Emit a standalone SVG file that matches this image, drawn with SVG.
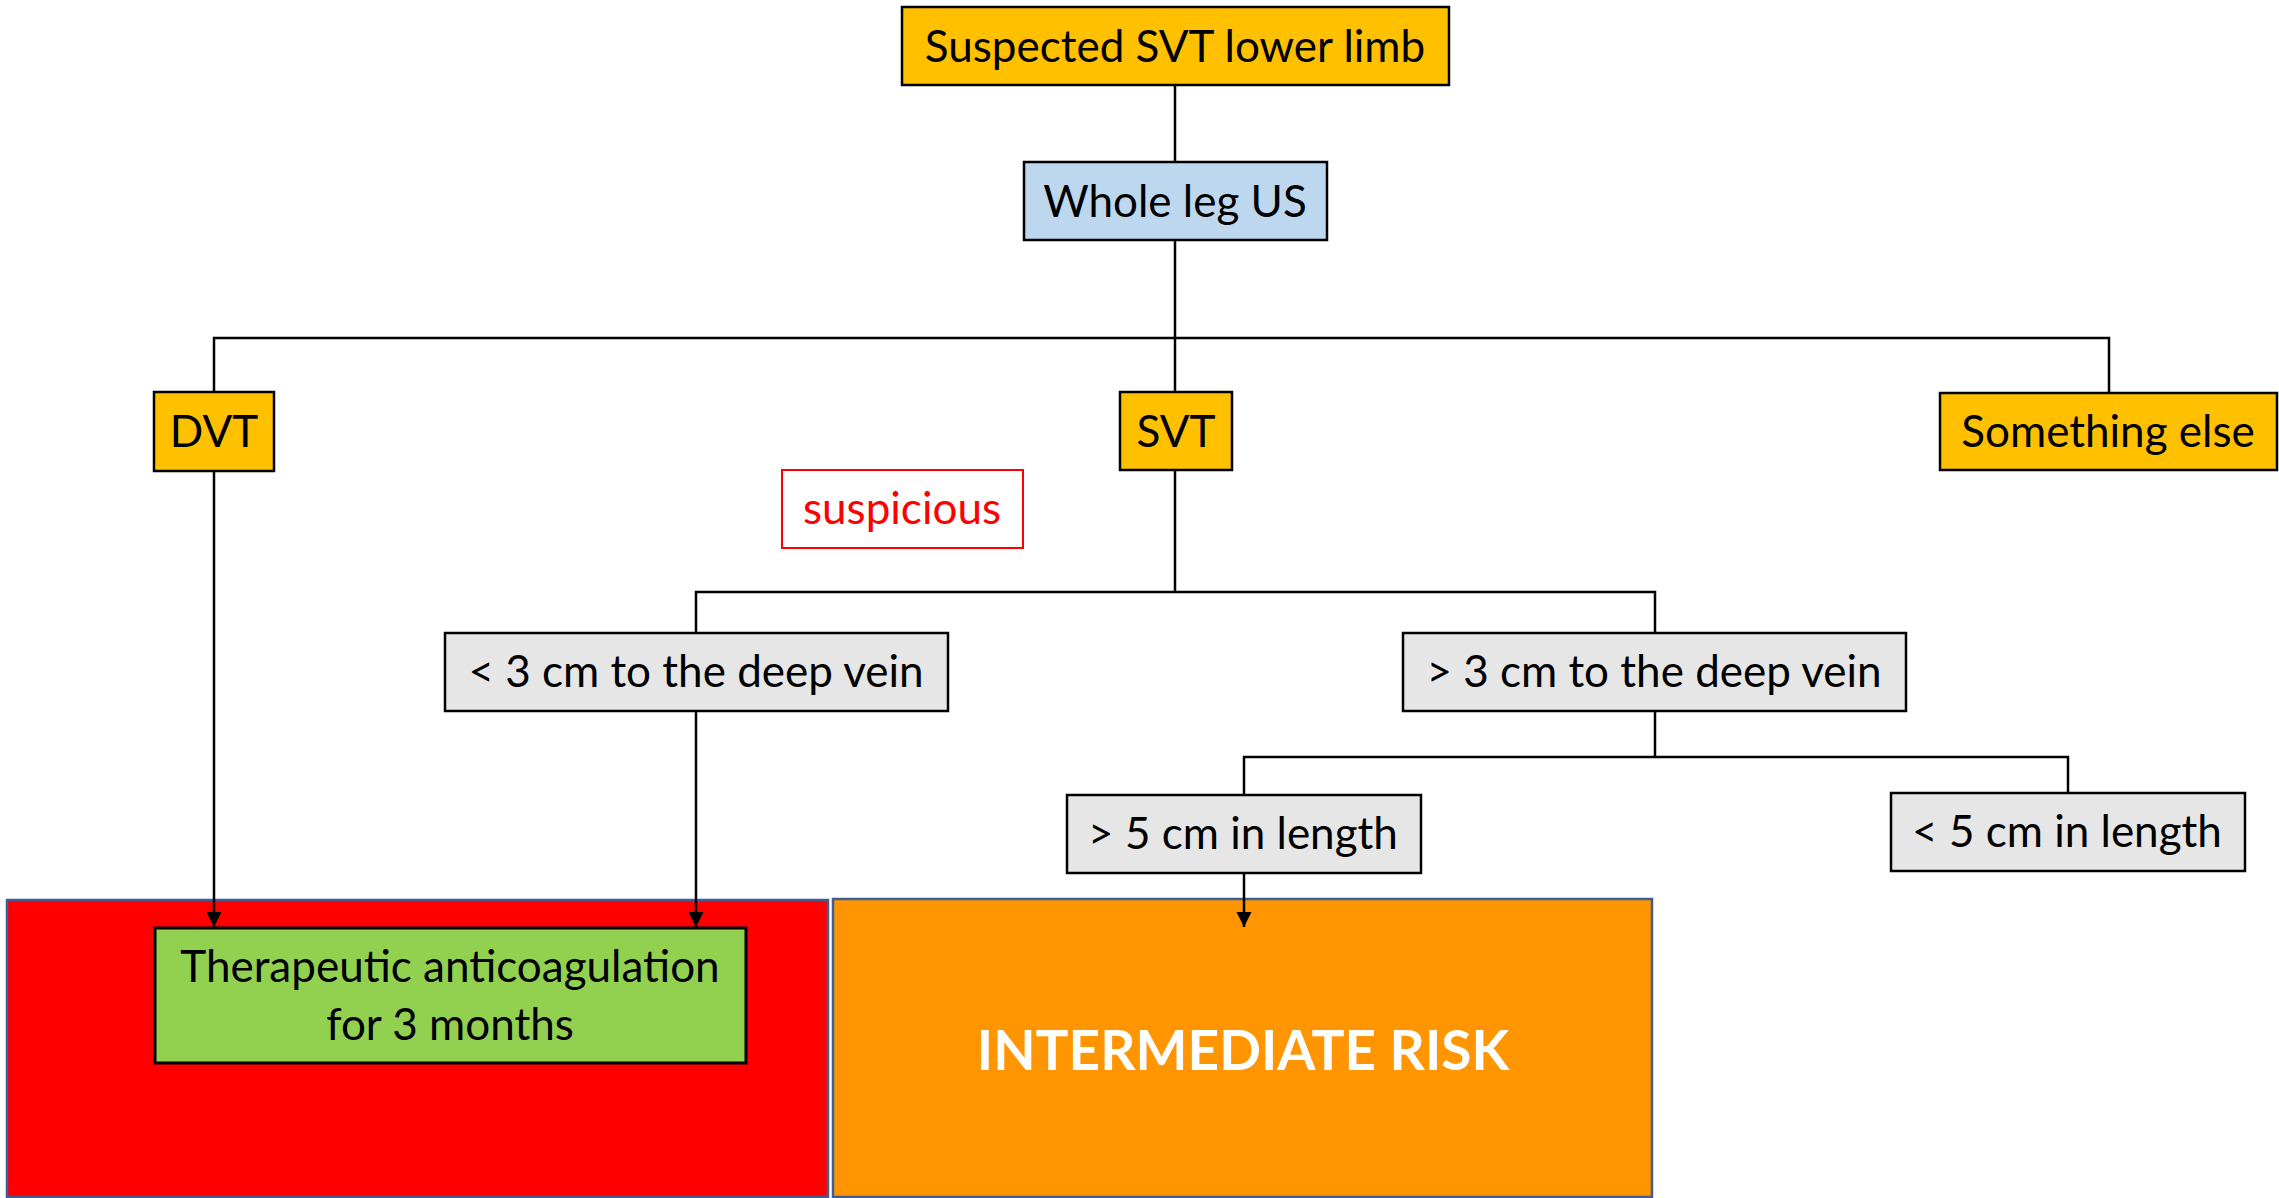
<svg xmlns="http://www.w3.org/2000/svg" width="2279" height="1198" viewBox="0 0 2279 1198">
<style>
.box{stroke:#000;stroke-width:2.5}
.t{font-family:Lato,"Open Sans","Liberation Sans",sans-serif;font-size:44px;fill:#000;text-anchor:middle}
.or{fill:#FFC000}
.gr{fill:#E6E6E6}
.conn{stroke:#000;stroke-width:2.5;fill:none}
.zone{stroke:#3E5F96;stroke-width:2.5}
</style>
<defs>
<marker id="arr" markerUnits="userSpaceOnUse" markerWidth="16" markerHeight="16" refX="15" refY="7.5" orient="auto">
<path d="M0,0 L15,7.5 L0,15 z" fill="#000"/>
</marker>
</defs>
<rect width="2279" height="1198" fill="#fff"/>
<g id="zone-high"><rect class="zone" x="7" y="900" width="821" height="297" fill="#FF0000"/></g>
<g id="zone-intermediate"><rect class="zone" x="833" y="899" width="819" height="298" fill="#FF9500"/>
<text x="1243" y="1070" style="font-family:Lato,'Open Sans','Liberation Sans',sans-serif;font-size:55px;font-weight:bold;fill:#fff;text-anchor:middle">INTERMEDIATE RISK</text></g>
<g id="connectors">
<line class="conn" x1="1175" y1="85" x2="1175" y2="162"/>
<line class="conn" x1="1175" y1="240" x2="1175" y2="392"/>
<polyline class="conn" points="214,392 214,338 2109,338 2109,393"/>
<line class="conn" x1="214" y1="471" x2="214" y2="927" marker-end="url(#arr)"/>
<line class="conn" x1="1175" y1="470" x2="1175" y2="592"/>
<polyline class="conn" points="696,633 696,592 1655,592 1655,633"/>
<line class="conn" x1="696" y1="711" x2="696" y2="927" marker-end="url(#arr)"/>
<line class="conn" x1="1655" y1="711" x2="1655" y2="757"/>
<polyline class="conn" points="1244,795 1244,757 2068,757 2068,793"/>
<line class="conn" x1="1244" y1="873" x2="1244" y2="927" marker-end="url(#arr)"/>
</g>
<g id="suspected"><rect class="box or" x="902" y="7" width="547" height="78"/><text class="t" x="1175" y="62">Suspected SVT lower limb</text></g>
<g id="wholeleg"><rect class="box" x="1024" y="162" width="303" height="78" fill="#BDD7EE"/><text class="t" x="1175" y="217">Whole leg US</text></g>
<g id="dvt"><rect class="box or" x="154" y="392" width="120" height="79"/><text class="t" x="214" y="447">DVT</text></g>
<g id="svt"><rect class="box or" x="1120" y="392" width="112" height="78"/><text class="t" x="1176" y="447">SVT</text></g>
<g id="else"><rect class="box or" x="1940" y="393" width="337" height="77"/><text class="t" x="2108" y="447">Something else</text></g>
<g id="suspicious"><rect x="782" y="470" width="241" height="78" fill="#fff" stroke="#FF0000" stroke-width="2"/><text class="t" x="902" y="524" style="fill:#FF0000">suspicious</text></g>
<g id="lt3"><rect class="box gr" x="445" y="633" width="503" height="78"/><text class="t" x="696" y="687">&lt; 3 cm to the deep vein</text></g>
<g id="gt3"><rect class="box gr" x="1403" y="633" width="503" height="78"/><text class="t" x="1654" y="687">&gt; 3 cm to the deep vein</text></g>
<g id="gt5"><rect class="box gr" x="1067" y="795" width="354" height="78"/><text class="t" x="1243" y="849">&gt; 5 cm in length</text></g>
<g id="lt5"><rect class="box gr" x="1891" y="793" width="354" height="78"/><text class="t" x="2067" y="847">&lt; 5 cm in length</text></g>
<g id="therapeutic"><rect x="155" y="928" width="591" height="135" fill="#92D050" stroke="#000" stroke-width="3"/><text class="t" x="450" y="982">Therapeutic anticoagulation</text><text class="t" x="450" y="1040">for 3 months</text></g>
</svg>
